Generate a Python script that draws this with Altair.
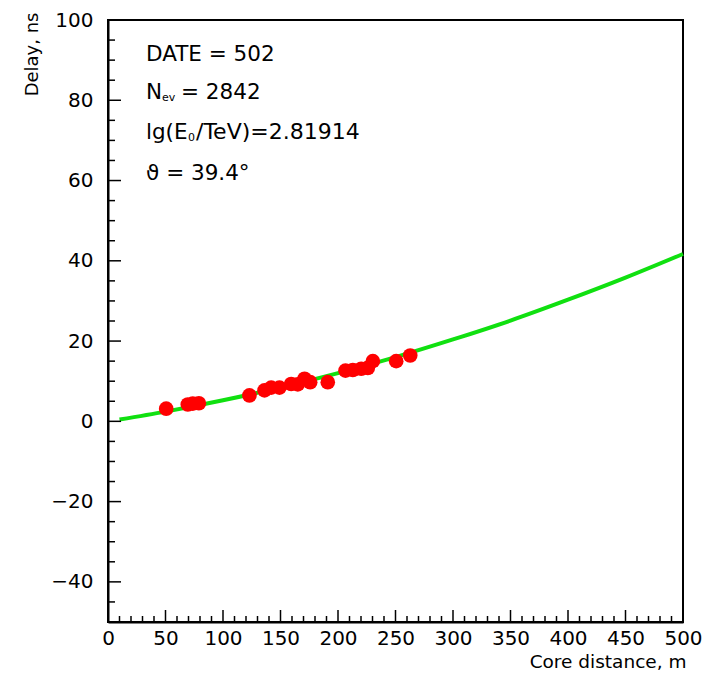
import altair as alt
import pandas as pd

# Measured points (core distance in m, delay in ns)
core_distance = [50.6, 69.4, 73.7, 79.0, 123.0, 136.1, 141.9, 149.1, 159.3, 165.0,
                 170.9, 175.8, 191.1, 206.5, 212.9, 220.2, 225.9, 230.3, 250.6, 262.8]
delay = [3.15, 4.2, 4.4, 4.5, 6.45, 7.7, 8.4, 8.4, 9.3, 9.2,
         10.6, 9.75, 9.75, 12.65, 12.8, 13.1, 13.3, 15.0, 15.0, 16.4]

# Fit curve
fit_distance = [10, 50, 100, 150, 200, 250, 300, 350, 400, 450, 500]
fit_delay = [0.45, 2.42, 5.24, 8.44, 12.0, 16.0, 20.4, 25.1, 30.3, 35.8, 41.7]

# Axis ticks
x_major = [0, 50, 100, 150, 200, 250, 300, 350, 400, 450, 500]
x_minor = [10, 20, 30, 40, 60, 70, 80, 90, 110, 120, 130, 140, 160, 170, 180, 190,
           210, 220, 230, 240, 260, 270, 280, 290, 310, 320, 330, 340, 360, 370, 380, 390,
           410, 420, 430, 440, 460, 470, 480, 490]
y_major = [-40, -20, 0, 20, 40, 60, 80, 100]
y_minor = [-45, -35, -30, -25, -15, -10, -5, 5, 10, 15, 25, 30, 35, 45, 50, 55,
           65, 70, 75, 85, 90, 95]

W, H = 575, 602
FONT = "DejaVu Sans"

xs = alt.Scale(domain=[0, 500], nice=False, zero=False)
ys = alt.Scale(domain=[-50, 100], nice=False, zero=False)

xaxis = alt.Axis(values=x_major, title="Core distance, m", ticks=False, tickSize=0, grid=False,
                 labelFont=FONT, labelFontSize=20, labelColor="black", labelPadding=6,
                 labelFontWeight="normal", domainColor="black", domainWidth=2,
                 titleFont=FONT, titleFontSize=18.5, titleFontWeight="normal", titleColor="black",
                 titleAnchor="end", titleAlign="right", titleX=W + 3, titleY=45,
                 titleBaseline="alphabetic", labelFlush=False)
yaxis = alt.Axis(values=y_major, title="Delay, ns", ticks=False, tickSize=0, grid=False,
                 labelFont=FONT, labelFontSize=20, labelColor="black", labelPadding=15,
                 domainColor="black", domainWidth=2,
                 titleFont=FONT, titleFontSize=18, titleFontWeight="normal", titleColor="black",
                 titleAngle=270, titleAlign="right", titleBaseline="alphabetic",
                 titleX=-71, titleY=-8, labelFlush=False)

fit_df = pd.DataFrame({"d": fit_distance, "t": fit_delay})
pts_df = pd.DataFrame({"d": core_distance, "t": delay})

line = alt.Chart(fit_df).mark_line(color="#10e010", strokeWidth=4, interpolate="monotone").encode(
    x=alt.X("d:Q", scale=xs, axis=xaxis),
    y=alt.Y("t:Q", scale=ys, axis=yaxis),
)
points = alt.Chart(pts_df).mark_circle(color="#ff0000", size=215, opacity=1).encode(
    x=alt.X("d:Q", scale=xs, axis=xaxis),
    y=alt.Y("t:Q", scale=ys, axis=yaxis),
)

xt_major = alt.Chart(pd.DataFrame({"d": x_major})).mark_rule(color="black", strokeWidth=1.5).encode(
    x=alt.X("d:Q", scale=xs, axis=xaxis), y=alt.value(H), y2=alt.value(H - 12))
xt_minor = alt.Chart(pd.DataFrame({"d": x_minor})).mark_rule(color="black", strokeWidth=1.5).encode(
    x=alt.X("d:Q", scale=xs, axis=xaxis), y=alt.value(H), y2=alt.value(H - 6))
yt_major = alt.Chart(pd.DataFrame({"t": y_major})).mark_rule(color="black", strokeWidth=1.5).encode(
    y=alt.Y("t:Q", scale=ys, axis=yaxis), x=alt.value(0), x2=alt.value(13))
yt_minor = alt.Chart(pd.DataFrame({"t": y_minor})).mark_rule(color="black", strokeWidth=1.5).encode(
    y=alt.Y("t:Q", scale=ys, axis=yaxis), x=alt.value(0), x2=alt.value(7))

one = pd.DataFrame({"a": [0]})


def label(txt, x, y, size=21.5):
    return alt.Chart(one).mark_text(text=txt, font=FONT, fontSize=size, color="black",
                                    align="left", baseline="alphabetic").encode(
        x=alt.value(x), y=alt.value(y))


texts = [
    label("DATE = 502", 38, 40.5),
    label("N", 38, 78.5),
    label("ev", 54, 80.5, 11),
    label("= 2842", 73, 78.5),
    label("lg(E", 38, 118.5),
    label("0", 80, 120.5, 11),
    label("/TeV)=2.81914", 88, 118.5, 22),
    label("\u03d1 = 39.4\u00b0", 38, 159.5),
]

chart = alt.layer(line, points, xt_major, xt_minor, yt_major, yt_minor, *texts).properties(
    width=W, height=H,
    autosize=alt.AutoSizeParams(type="none"),
    padding={"left": 100, "top": 12, "right": 25, "bottom": 50},
    background="white",
).configure_view(stroke="black", strokeWidth=2)

chart.save("out.html", embed_options={"renderer": "svg", "actions": False})
